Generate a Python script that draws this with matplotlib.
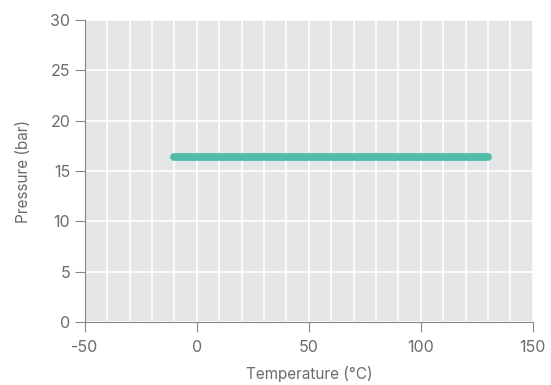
import numpy as np
import matplotlib
matplotlib.use("Agg")
from matplotlib import pyplot as plt

# data
temperature = [-10, 130]
pressure = [16.4, 16.4]
x_ticks = [-50, 0, 50, 100, 150]
y_ticks = [0, 5, 10, 15, 20, 25, 30]

plt.rcParams['font.family'] = ['Inter', 'DejaVu Sans']
plt.rcParams['axes.unicode_minus'] = False
text_color = "#6b6b6b"

fig = plt.figure(figsize=(5.51, 3.85), dpi=100)
ax = fig.add_axes([0.154, 0.164, 0.813, 0.784])
ax.set_facecolor("#e4e5e7")

ax.plot(temperature, pressure, color="#52bcab", linewidth=5.6, solid_capstyle="round", zorder=3)

ax.set_xlim(-50, 150)
ax.set_ylim(0, 30)
ax.set_xticks(x_ticks)
ax.set_yticks(y_ticks)
ax.set_xticks(np.arange(-50, 151, 10), minor=True)
ax.grid(True, which="both", axis="x", color="white", linewidth=1.2)
ax.grid(True, which="major", axis="y", color="white", linewidth=1.2)
ax.set_axisbelow(True)
ax.tick_params(axis="x", which="minor", length=0)
ax.tick_params(which="major", length=7, width=0.8, color="#888888",
               labelcolor=text_color, labelsize=11.5)
ax.tick_params(axis="x", which="major", pad=6)

for side in ["top", "right"]:
    ax.spines[side].set_visible(False)
for side in ["left", "bottom"]:
    ax.spines[side].set_color("#888888")
    ax.spines[side].set_linewidth(0.8)

ax.set_xlabel("Temperature (°C)", color=text_color, fontsize=11, labelpad=8)
ax.set_ylabel("Pressure (bar)", color=text_color, fontsize=11, labelpad=14)

fig.savefig("out.png", dpi=100)
